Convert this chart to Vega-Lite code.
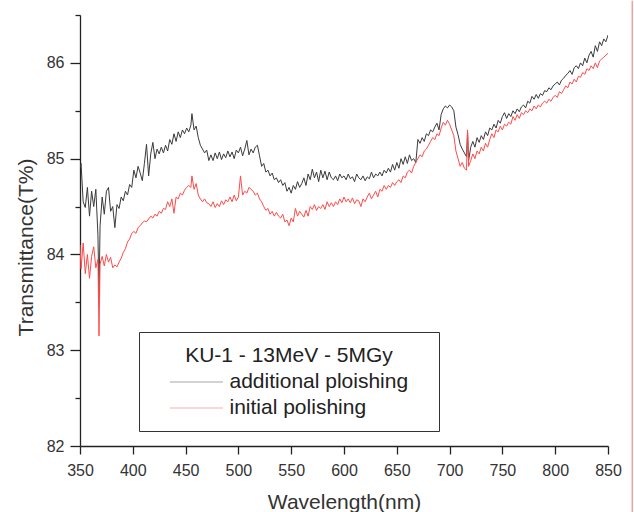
{
"$schema": "https://vega.github.io/schema/vega-lite/v6.json",
"width": 528, "height": 431,
"autosize": "none",
"padding": {"left": 80, "top": 15, "right": 26, "bottom": 66},
"config": {"view": {"stroke": null}, "font": "Liberation Sans"},
"data": {"values": [
{"w":350,"a":84.90,"b":84.10},{"w":351,"a":84.95,"b":83.85},{"w":353,"a":84.55,"b":84.12},{"w":355,"a":84.49,"b":83.80},{"w":357,"a":84.70,"b":84.00},{"w":359,"a":84.40,"b":83.75},{"w":361,"a":84.66,"b":83.98},{"w":363,"a":84.50,"b":84.08},{"w":365,"a":84.68,"b":83.86},{"w":367,"a":84.20,"b":83.95},{"w":368,"a":83.55,"b":83.15},{"w":369,"a":84.30,"b":83.90},{"w":371,"a":84.60,"b":83.98},{"w":373,"a":84.42,"b":83.88},{"w":375,"a":84.66,"b":84.00},{"w":377,"a":84.70,"b":83.92},{"w":379,"a":84.45,"b":83.97},{"w":381,"a":84.50,"b":83.86},{"w":383,"a":84.28,"b":83.89},{"w":385,"a":84.52,"b":83.87},{"w":387,"a":84.48,"b":83.92},{"w":389,"a":84.60,"b":83.96},{"w":391,"a":84.56,"b":84.02},{"w":393,"a":84.66,"b":84.06},{"w":395,"a":84.62,"b":84.13},{"w":397,"a":84.73,"b":84.16},{"w":399,"a":84.70,"b":84.22},{"w":401,"a":84.88,"b":84.24},{"w":403,"a":84.80,"b":84.22},{"w":405,"a":84.92,"b":84.28},{"w":407,"a":84.85,"b":84.30},{"w":409,"a":84.77,"b":84.33},{"w":411,"a":84.95,"b":84.35},{"w":413,"a":85.15,"b":84.34},{"w":415,"a":84.82,"b":84.37},{"w":417,"a":85.05,"b":84.40},{"w":419,"a":85.17,"b":84.38},{"w":421,"a":85.00,"b":84.42},{"w":423,"a":85.10,"b":84.40},{"w":425,"a":85.05,"b":84.45},{"w":427,"a":85.12,"b":84.43},{"w":429,"a":85.06,"b":84.48},{"w":431,"a":85.14,"b":84.47},{"w":433,"a":85.08,"b":84.55},{"w":435,"a":85.20,"b":84.50},{"w":437,"a":85.15,"b":84.58},{"w":439,"a":85.26,"b":84.43},{"w":441,"a":85.18,"b":84.60},{"w":443,"a":85.28,"b":84.58},{"w":445,"a":85.22,"b":84.64},{"w":447,"a":85.30,"b":84.62},{"w":449,"a":85.26,"b":84.67},{"w":451,"a":85.32,"b":84.70},{"w":453,"a":85.28,"b":84.72},{"w":455,"a":85.35,"b":84.70},{"w":456,"a":85.47,"b":84.82},{"w":458,"a":85.30,"b":84.68},{"w":460,"a":85.34,"b":84.74},{"w":462,"a":85.22,"b":84.62},{"w":464,"a":85.14,"b":84.58},{"w":466,"a":85.10,"b":84.55},{"w":468,"a":85.06,"b":84.58},{"w":470,"a":85.09,"b":84.54},{"w":472,"a":84.98,"b":84.53},{"w":474,"a":85.04,"b":84.50},{"w":476,"a":84.98,"b":84.55},{"w":478,"a":85.06,"b":84.49},{"w":480,"a":85.00,"b":84.53},{"w":482,"a":85.07,"b":84.50},{"w":484,"a":84.99,"b":84.56},{"w":486,"a":85.05,"b":84.52},{"w":488,"a":85.01,"b":84.57},{"w":490,"a":85.08,"b":84.55},{"w":492,"a":85.02,"b":84.60},{"w":494,"a":85.07,"b":84.55},{"w":496,"a":85.00,"b":84.62},{"w":498,"a":85.09,"b":84.56},{"w":500,"a":85.06,"b":84.60},{"w":502,"a":85.12,"b":84.82},{"w":504,"a":85.03,"b":84.62},{"w":506,"a":85.10,"b":84.66},{"w":508,"a":85.19,"b":84.64},{"w":510,"a":85.04,"b":84.70},{"w":512,"a":85.10,"b":84.68},{"w":514,"a":85.06,"b":84.66},{"w":516,"a":85.12,"b":84.62},{"w":518,"a":85.14,"b":84.64},{"w":520,"a":85.03,"b":84.58},{"w":522,"a":84.92,"b":84.55},{"w":524,"a":84.95,"b":84.50},{"w":526,"a":84.86,"b":84.46},{"w":528,"a":84.88,"b":84.48},{"w":530,"a":84.82,"b":84.42},{"w":532,"a":84.85,"b":84.45},{"w":534,"a":84.78,"b":84.40},{"w":536,"a":84.80,"b":84.44},{"w":538,"a":84.75,"b":84.40},{"w":540,"a":84.78,"b":84.38},{"w":542,"a":84.72,"b":84.42},{"w":544,"a":84.75,"b":84.34},{"w":546,"a":84.66,"b":84.36},{"w":548,"a":84.70,"b":84.30},{"w":550,"a":84.64,"b":84.38},{"w":552,"a":84.72,"b":84.34},{"w":554,"a":84.68,"b":84.48},{"w":556,"a":84.76,"b":84.40},{"w":558,"a":84.70,"b":84.45},{"w":560,"a":84.74,"b":84.42},{"w":562,"a":84.80,"b":84.39},{"w":564,"a":84.72,"b":84.46},{"w":566,"a":84.84,"b":84.40},{"w":568,"a":84.78,"b":84.50},{"w":570,"a":84.89,"b":84.47},{"w":572,"a":84.80,"b":84.52},{"w":574,"a":84.86,"b":84.46},{"w":576,"a":84.76,"b":84.50},{"w":578,"a":84.88,"b":84.48},{"w":580,"a":84.80,"b":84.52},{"w":582,"a":84.87,"b":84.47},{"w":584,"a":84.78,"b":84.55},{"w":586,"a":84.86,"b":84.50},{"w":588,"a":84.80,"b":84.54},{"w":590,"a":84.78,"b":84.50},{"w":592,"a":84.82,"b":84.55},{"w":594,"a":84.77,"b":84.52},{"w":596,"a":84.84,"b":84.58},{"w":598,"a":84.80,"b":84.54},{"w":600,"a":84.82,"b":84.60},{"w":602,"a":84.78,"b":84.55},{"w":604,"a":84.84,"b":84.58},{"w":606,"a":84.79,"b":84.54},{"w":608,"a":84.81,"b":84.59},{"w":610,"a":84.76,"b":84.53},{"w":612,"a":84.84,"b":84.57},{"w":614,"a":84.80,"b":84.56},{"w":616,"a":84.78,"b":84.50},{"w":618,"a":84.82,"b":84.58},{"w":620,"a":84.77,"b":84.55},{"w":622,"a":84.81,"b":84.60},{"w":624,"a":84.79,"b":84.64},{"w":626,"a":84.86,"b":84.58},{"w":628,"a":84.80,"b":84.62},{"w":630,"a":84.84,"b":84.66},{"w":632,"a":84.82,"b":84.60},{"w":634,"a":84.86,"b":84.68},{"w":636,"a":84.82,"b":84.66},{"w":638,"a":84.88,"b":84.72},{"w":640,"a":84.85,"b":84.68},{"w":642,"a":84.90,"b":84.72},{"w":644,"a":84.86,"b":84.70},{"w":646,"a":84.94,"b":84.75},{"w":648,"a":84.88,"b":84.72},{"w":650,"a":84.96,"b":84.76},{"w":652,"a":84.90,"b":84.78},{"w":654,"a":85.00,"b":84.75},{"w":656,"a":84.94,"b":84.82},{"w":658,"a":85.02,"b":84.80},{"w":660,"a":84.95,"b":84.86},{"w":662,"a":85.04,"b":84.88},{"w":664,"a":84.98,"b":84.85},{"w":666,"a":85.00,"b":84.92},{"w":668,"a":84.96,"b":84.96},{"w":670,"a":85.20,"b":85.00},{"w":672,"a":85.16,"b":85.04},{"w":674,"a":85.22,"b":85.02},{"w":676,"a":85.18,"b":85.08},{"w":678,"a":85.26,"b":85.10},{"w":680,"a":85.24,"b":85.14},{"w":682,"a":85.30,"b":85.18},{"w":684,"a":85.28,"b":85.22},{"w":686,"a":85.33,"b":85.20},{"w":688,"a":85.37,"b":85.26},{"w":690,"a":85.30,"b":85.24},{"w":692,"a":85.46,"b":85.32},{"w":694,"a":85.52,"b":85.38},{"w":696,"a":85.55,"b":85.35},{"w":698,"a":85.53,"b":85.40},{"w":700,"a":85.56,"b":85.36},{"w":702,"a":85.54,"b":85.30},{"w":704,"a":85.50,"b":85.24},{"w":706,"a":85.33,"b":85.08},{"w":708,"a":85.25,"b":85.00},{"w":710,"a":85.15,"b":84.92},{"w":712,"a":85.10,"b":84.96},{"w":714,"a":85.06,"b":84.90},{"w":716,"a":85.02,"b":84.88},{"w":717,"a":85.28,"b":85.30},{"w":718,"a":84.98,"b":84.92},{"w":720,"a":85.12,"b":84.98},{"w":722,"a":85.18,"b":85.05},{"w":724,"a":85.12,"b":85.00},{"w":726,"a":85.22,"b":85.08},{"w":728,"a":85.17,"b":85.05},{"w":730,"a":85.24,"b":85.12},{"w":732,"a":85.20,"b":85.08},{"w":734,"a":85.28,"b":85.16},{"w":736,"a":85.24,"b":85.12},{"w":738,"a":85.32,"b":85.20},{"w":740,"a":85.30,"b":85.26},{"w":742,"a":85.36,"b":85.22},{"w":744,"a":85.32,"b":85.30},{"w":746,"a":85.40,"b":85.28},{"w":748,"a":85.37,"b":85.34},{"w":750,"a":85.44,"b":85.30},{"w":752,"a":85.48,"b":85.36},{"w":754,"a":85.42,"b":85.34},{"w":756,"a":85.47,"b":85.38},{"w":758,"a":85.44,"b":85.36},{"w":760,"a":85.50,"b":85.44},{"w":762,"a":85.47,"b":85.40},{"w":764,"a":85.52,"b":85.46},{"w":766,"a":85.49,"b":85.42},{"w":768,"a":85.54,"b":85.48},{"w":770,"a":85.56,"b":85.46},{"w":772,"a":85.53,"b":85.50},{"w":774,"a":85.60,"b":85.48},{"w":776,"a":85.58,"b":85.52},{"w":778,"a":85.65,"b":85.50},{"w":780,"a":85.62,"b":85.55},{"w":782,"a":85.67,"b":85.52},{"w":784,"a":85.63,"b":85.56},{"w":786,"a":85.68,"b":85.54},{"w":788,"a":85.66,"b":85.58},{"w":790,"a":85.71,"b":85.60},{"w":792,"a":85.70,"b":85.58},{"w":794,"a":85.74,"b":85.62},{"w":796,"a":85.72,"b":85.60},{"w":798,"a":85.76,"b":85.64},{"w":800,"a":85.78,"b":85.66},{"w":802,"a":85.80,"b":85.64},{"w":804,"a":85.77,"b":85.70},{"w":806,"a":85.82,"b":85.68},{"w":808,"a":85.84,"b":85.72},{"w":810,"a":85.87,"b":85.76},{"w":812,"a":85.89,"b":85.74},{"w":814,"a":85.92,"b":85.80},{"w":816,"a":85.88,"b":85.78},{"w":818,"a":85.95,"b":85.83},{"w":820,"a":85.97,"b":85.80},{"w":822,"a":85.94,"b":85.86},{"w":824,"a":86.00,"b":85.85},{"w":826,"a":85.97,"b":85.90},{"w":828,"a":86.05,"b":85.88},{"w":830,"a":86.00,"b":85.94},{"w":832,"a":86.08,"b":85.92},{"w":834,"a":86.12,"b":85.97},{"w":836,"a":86.06,"b":85.94},{"w":838,"a":86.18,"b":86.00},{"w":840,"a":86.12,"b":85.95},{"w":842,"a":86.22,"b":86.02},{"w":844,"a":86.18,"b":86.04},{"w":846,"a":86.25,"b":86.06},{"w":848,"a":86.22,"b":86.08},{"w":850,"a":86.29,"b":86.10}
]},
"layer": [
{
"transform": [{"fold": ["a", "b"], "as": ["s", "t"]}],
"mark": {"type": "line", "strokeWidth": 1, "clip": true},
"encoding": {
"x": {"field": "w", "type": "quantitative",
 "scale": {"domain": [350, 850], "nice": false, "zero": false},
 "axis": {"title": "Wavelength(nm)",
  "values": [350,375,400,425,450,475,500,525,550,575,600,625,650,675,700,725,750,775,800,825,850],
  "labelExpr": "datum.value % 50 === 0 ? format(datum.value, 'd') : ''",
  "tickSize": {"condition": {"test": "datum.value % 50 === 0", "value": 8}, "value": 5},
  "grid": false, "labelFontSize": 16, "labelColor": "#333", "labelPadding": 8, "labelFlush": false, "labelOverlap": false,
  "titleFontSize": 21, "titleFontWeight": "normal", "titleColor": "#333", "titlePadding": 13,
  "domainColor": "#222", "tickColor": "#222", "domainWidth": 1.3, "tickWidth": 1.3}},
"y": {"field": "t", "type": "quantitative",
 "scale": {"domain": [82, 86.5], "nice": false, "zero": false},
 "axis": {"title": "Transmittance(T%)",
  "values": [82,82.5,83,83.5,84,84.5,85,85.5,86,86.5],
  "labelExpr": "datum.value % 1 === 0 ? format(datum.value, 'd') : ''",
  "tickSize": {"condition": {"test": "datum.value % 1 === 0", "value": 10}, "value": 5},
  "grid": false, "labelFontSize": 16, "labelColor": "#333", "labelPadding": 6, "labelOverlap": false,
  "titleFontSize": 21, "titleFontWeight": "normal", "titleColor": "#333", "titlePadding": 10, "titleY": 232,
  "domainColor": "#222", "tickColor": "#222", "domainWidth": 1.3, "tickWidth": 1.3}},
"color": {"field": "s", "type": "nominal",
 "scale": {"domain": ["a", "b"], "range": ["#3a3a3a", "#ff4a4a"]},
 "legend": {"title": "KU-1 - 13MeV - 5MGy", "orient": "none", "legendX": 59, "legendY": 317,
  "strokeColor": "#333", "fillColor": "white", "padding": 13,
  "titleFontSize": 21, "titleFontWeight": "normal", "titleColor": "#222", "titleAnchor": "middle", "titlePadding": 2, "titleLimit": 500,
  "labelFontSize": 21, "labelColor": "#222", "labelLimit": 500,
  "labelExpr": "datum.label === 'a' ? 'additional ploishing\u00a0\u00a0\u00a0\u200b' : 'initial polishing'",
  "symbolType": "M-2,0H2", "symbolSize": 702, "symbolStrokeWidth": 1.2, "symbolOpacity": 0.45,
  "symbolOffset": 30.5, "labelOffset": 19, "rowPadding": 2}}
}
},
{
"data": {"values": [{}]},
"mark": {"type": "rule", "color": "#f4a0a0", "strokeWidth": 1.5, "clip": false},
"encoding": {
 "x": {"datum": 873, "type": "quantitative"},
 "y": {"datum": 86.65, "type": "quantitative"},
 "y2": {"datum": 81.31}
}
}
]
}
